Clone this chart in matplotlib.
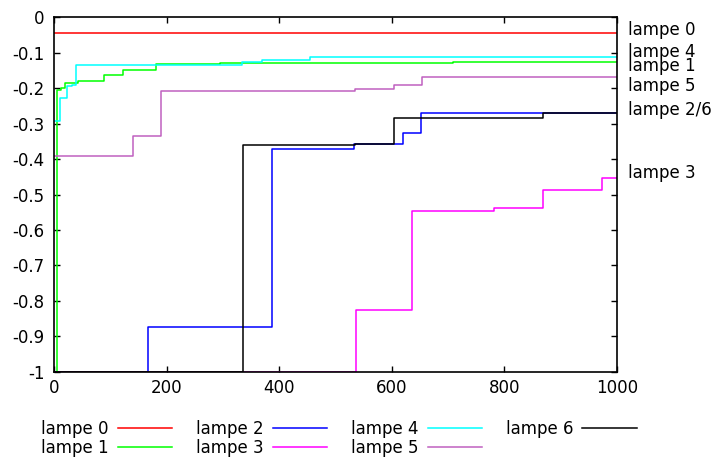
import matplotlib
matplotlib.use("Agg")
import matplotlib.pyplot as plt
from matplotlib.ticker import FuncFormatter

plt.rcParams["font.family"] = "DejaVu Sans"
plt.rcParams["axes.unicode_minus"] = False

# step points (x where the value starts, value held until next x)
L0_X = [0, 1000]
L0_Y = [-0.045, -0.045]
L1_X = [0, 5, 12, 19, 43, 88, 123, 180, 295, 709, 1000]
L1_Y = [-1, -0.205, -0.2, -0.184, -0.18, -0.162, -0.148, -0.131, -0.128, -0.125, -0.125]
L2_X = [0, 166, 387, 532, 620, 651, 871, 1000]
L2_Y = [-1, -0.873, -0.37, -0.356, -0.325, -0.271, -0.269, -0.269]
L3_X = [0, 537, 636, 782, 869, 974, 1000]
L3_Y = [-1, -0.826, -0.546, -0.537, -0.487, -0.453, -0.453]
L4_X = [0, 10, 22, 31, 39, 334, 369, 454, 1000]
L4_Y = [-0.292, -0.226, -0.194, -0.19, -0.135, -0.125, -0.119, -0.113, -0.113]
L5_X = [0, 140, 190, 535, 604, 654, 1000]
L5_Y = [-0.391, -0.334, -0.208, -0.203, -0.191, -0.168, -0.168]
L6_X = [0, 336, 535, 604, 868, 1000]
L6_Y = [-1, -0.36, -0.358, -0.283, -0.27, -0.27]

NAMES = ["lampe 0", "lampe 1", "lampe 2", "lampe 3", "lampe 4", "lampe 5", "lampe 6"]
COLORS = ["#ff0000", "#00ff00", "#0000ff", "#ff00ff", "#00ffff", "#c060c0", "#000000"]
SERIES = [(L0_X, L0_Y), (L1_X, L1_Y), (L2_X, L2_Y), (L3_X, L3_Y),
          (L4_X, L4_Y), (L5_X, L5_Y), (L6_X, L6_Y)]

# right-hand end labels
END_LABELS = ["lampe 0", "lampe 4", "lampe 1", "lampe 5", "lampe 2/6", "lampe 3"]
END_LABEL_Y = [-0.036, -0.098, -0.137, -0.194, -0.262, -0.439]

fig = plt.figure(figsize=(7.14, 4.59), dpi=100)
ax = fig.add_axes([0.076, 0.190, 0.788, 0.772])

for (xs, ys), name, c in zip(SERIES, NAMES, COLORS):
    ax.plot(xs, ys, drawstyle="steps-post", color=c, lw=1.1, label=name)

for txt, y in zip(END_LABELS, END_LABEL_Y):
    ax.text(1020, y, txt, fontsize=12, va="center", ha="left", clip_on=False)

ax.set_xlim(0, 1000)
ax.set_ylim(-1, 0)
ax.set_xticks(range(0, 1001, 200))
ax.set_yticks([i / 10 for i in range(-10, 1)])
ax.yaxis.set_major_formatter(FuncFormatter(lambda v, p: "%g" % round(v, 1) if v != 0 else "0"))
ax.tick_params(direction="in", length=4.5, width=1, labelsize=12,
               top=True, right=True, pad=5)
ax.tick_params(axis="y", pad=7)
for s in ax.spines.values():
    s.set_linewidth(1.2)

fig.legend(loc="upper left", bbox_to_anchor=(41 / 714, 1 - 420 / 459), ncol=4,
           frameon=False, fontsize=12, markerfirst=False, handlelength=3.25,
           handletextpad=0.55, columnspacing=1.44, labelspacing=0.06,
           borderpad=0, borderaxespad=0)

fig.savefig("out.png", dpi=100)
